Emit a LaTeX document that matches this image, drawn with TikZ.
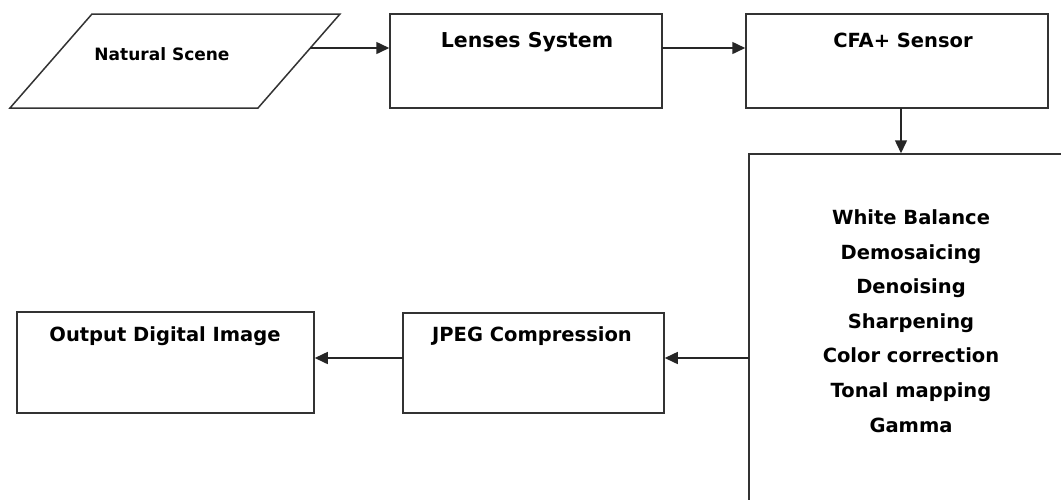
\documentclass[tikz,border=0pt]{standalone}
\usepackage{fontspec}
\setmainfont{DejaVu Sans}
\usetikzlibrary{arrows.meta}
\tikzset{
  boxline/.style={draw=black!80, line width=1.5pt},
  blk/.style={boxline, rectangle, fill=white, inner sep=0pt},
  lbl/.style={inner sep=0pt, text=black, font=\bfseries\fontsize{19.5pt}{34.6pt}\selectfont},
  arr/.style={draw=black!85, line width=1.5pt, -{Triangle[length=13pt,width=12pt]}},
}
\begin{document}
\begin{tikzpicture}[x=1pt,y=-1pt]
\useasboundingbox (0,0) rectangle (1061,499);
\clip (0,0) rectangle (1061,499);
\fill[white] (0,0) rectangle (1061,499);
% parallelogram (Natural Scene)
\draw[boxline, line join=miter] (92,14) -- (340,14) -- (258,108) -- (10,108) -- cycle;
\node[lbl, anchor=base, font=\bfseries\fontsize{17pt}{20pt}\selectfont] (scene) at (162,60) {Natural Scene};
\coordinate (sceneout) at (310.3,48);
% boxes
\node[blk, minimum width=272pt, minimum height=94pt] (lens) at (526,61) {};
\node[blk, minimum width=302pt, minimum height=94pt] (cfa) at (897,61) {};
\node[blk, minimum width=330pt, minimum height=380pt] (proc) at (914,344) {};
\node[blk, minimum width=261pt, minimum height=100pt] (jpeg) at (533.5,363) {};
\node[blk, minimum width=297pt, minimum height=101pt] (out) at (165.5,362.5) {};
% texts
\node[lbl, anchor=base, font=\bfseries\fontsize{20.5pt}{24pt}\selectfont] (lenst) at (527,47) {Lenses System};
\node[lbl, anchor=base, font=\bfseries\fontsize{19.5pt}{24pt}\selectfont] (cfat) at (903,47) {CFA+ Sensor};
\node[lbl, align=center] (proct) at (911,321) {White Balance\\Demosaicing\\Denoising\\Sharpening\\Color correction\\Tonal mapping\\Gamma};
\node[lbl, anchor=base] (jpegt) at (532,341) {JPEG Compression};
\node[lbl, anchor=base] (outt) at (165,341) {Output Digital Image};
% connectors
\coordinate (lensout) at (662,48);
\coordinate (cfadown) at (901,108);
\coordinate (procout) at (749,358);
\coordinate (jpegout) at (403,358);
\draw[arr] (sceneout) -- (sceneout -| lens.west);
\draw[arr] (lensout) -- (lensout -| cfa.west);
\draw[arr] (cfadown) -- (cfadown |- proc.north);
\draw[arr] (procout) -- (procout -| jpeg.east);
\draw[arr] (jpegout) -- (jpegout -| out.east);
\end{tikzpicture}
\end{document}
